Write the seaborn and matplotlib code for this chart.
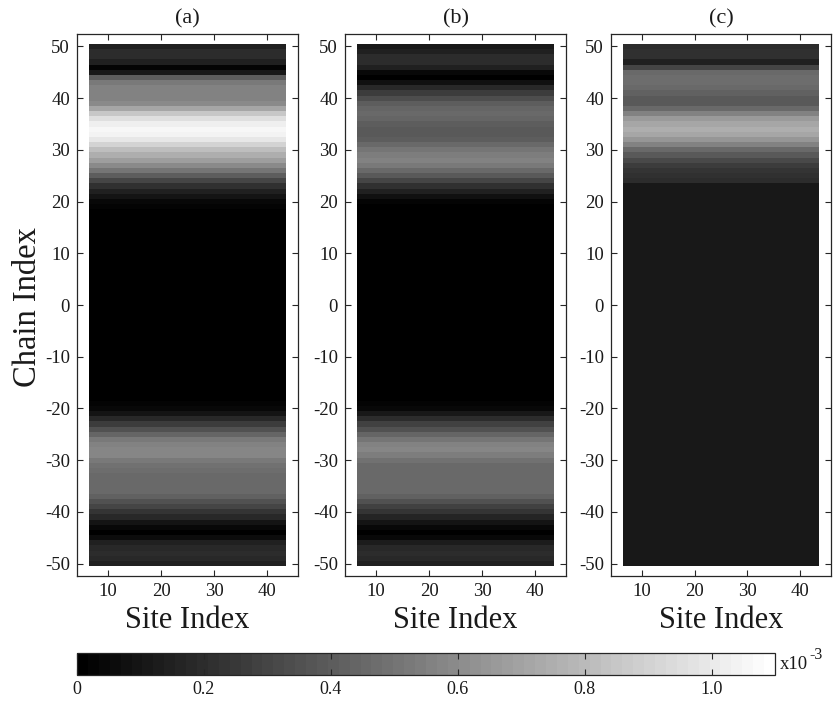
import numpy as np
import pandas as pd
import matplotlib
matplotlib.use("Agg")
import matplotlib.pyplot as plt
import seaborn as sns
from matplotlib.colors import ListedColormap

plt.rcParams["font.family"] = ["Liberation Serif", "DejaVu Serif"]

# ---------------- data ----------------
sites = list(range(7, 44))            # Site Index 7..43
chains = list(range(50, -51, -1))     # Chain Index 50 .. -50 (top to bottom)

# row profiles (x1e-3), chain 50 -> -50, uniform along the sites
profile_a = [
    0.15, 0.20, 0.20, 0.15, 0.03, 0.12, 0.40, 0.52, 0.55, 0.55,
    0.55, 0.60, 0.72, 0.85, 0.96, 1.03, 1.06, 1.04, 0.98, 0.90,
    0.82, 0.74, 0.68, 0.60, 0.50, 0.40, 0.30, 0.22, 0.15, 0.10,
    0.05, 0.02, 0.00, 0.00, 0.00, 0.00, 0.00, 0.00, 0.00, 0.00,
    0.00, 0.00, 0.00, 0.00, 0.00, 0.00, 0.00, 0.00, 0.00, 0.00,
    0.00, 0.00, 0.00, 0.00, 0.00, 0.00, 0.00, 0.00, 0.00, 0.00,
    0.00, 0.00, 0.00, 0.00, 0.00, 0.00, 0.00, 0.00, 0.00, 0.02,
    0.05, 0.10, 0.18, 0.26, 0.35, 0.44, 0.52, 0.56, 0.58, 0.57,
    0.53, 0.49, 0.47, 0.46, 0.46, 0.46, 0.45, 0.42, 0.36, 0.30,
    0.24, 0.18, 0.10, 0.04, 0.01, 0.06, 0.14, 0.18, 0.20, 0.18,
    0.15,
]
profile_b = [
    0.12, 0.14, 0.20, 0.20, 0.14, 0.05, 0.01, 0.08, 0.18, 0.26,
    0.33, 0.40, 0.44, 0.45, 0.44, 0.41, 0.38, 0.38, 0.40, 0.45,
    0.50, 0.54, 0.55, 0.52, 0.46, 0.38, 0.30, 0.22, 0.14, 0.08,
    0.03, 0.01, 0.00, 0.00, 0.00, 0.00, 0.00, 0.00, 0.00, 0.00,
    0.00, 0.00, 0.00, 0.00, 0.00, 0.00, 0.00, 0.00, 0.00, 0.00,
    0.00, 0.00, 0.00, 0.00, 0.00, 0.00, 0.00, 0.00, 0.00, 0.00,
    0.00, 0.00, 0.00, 0.00, 0.00, 0.00, 0.00, 0.00, 0.00, 0.02,
    0.05, 0.12, 0.20, 0.28, 0.36, 0.44, 0.50, 0.55, 0.57, 0.54,
    0.49, 0.46, 0.45, 0.45, 0.46, 0.46, 0.45, 0.42, 0.36, 0.29,
    0.23, 0.17, 0.10, 0.04, 0.01, 0.05, 0.13, 0.18, 0.20, 0.18,
    0.15,
]
profile_c = [
    0.20, 0.22, 0.22, 0.14, 0.30, 0.46, 0.48, 0.47, 0.45, 0.42,
    0.38, 0.38, 0.45, 0.55, 0.66, 0.72, 0.74, 0.72, 0.64, 0.55,
    0.46, 0.38, 0.32, 0.27, 0.24, 0.22, 0.20, 0.11, 0.11, 0.11,
    0.11, 0.11, 0.11, 0.11, 0.11, 0.11, 0.11, 0.11, 0.11, 0.11,
    0.11, 0.11, 0.11, 0.11, 0.11, 0.11, 0.11, 0.11, 0.11, 0.11,
    0.11, 0.11, 0.11, 0.11, 0.11, 0.11, 0.11, 0.11, 0.11, 0.11,
    0.11, 0.11, 0.11, 0.11, 0.11, 0.11, 0.11, 0.11, 0.11, 0.11,
    0.11, 0.11, 0.11, 0.11, 0.11, 0.11, 0.11, 0.11, 0.11, 0.11,
    0.11, 0.11, 0.11, 0.11, 0.11, 0.11, 0.11, 0.11, 0.11, 0.11,
    0.11, 0.11, 0.11, 0.11, 0.11, 0.11, 0.11, 0.11, 0.11, 0.11,
    0.11,
]
panel_titles = ["(a)", "(b)", "(c)"]
x_ticks = [10, 20, 30, 40]
y_ticks = [50, 40, 30, 20, 10, 0, -10, -20, -30, -40, -50]
cbar_ticks = [0, 0.2, 0.4, 0.6, 0.8, 1.0]
cbar_labels = ["0", "0.2", "0.4", "0.6", "0.8", "1.0"]
vmin, vmax = 0.0, 1.1

# ---------------- figure ----------------
W, H = 834, 706
fig = plt.figure(figsize=(W / 100, H / 100), dpi=100)


def rect(x0, y0, x1, y1):
    return [x0 / W, 1 - y1 / H, (x1 - x0) / W, (y1 - y0) / H]


cmap = ListedColormap(plt.cm.gray(np.linspace(0, 1, 64)))
spine_col = "#262626"
text_col = "#1a1a1a"
panel_x = [(77, 298), (345, 566), (611, 831)]
ax_top, ax_bot = 34, 576
cax = fig.add_axes(rect(77, 653, 775, 675))

x_lim = (4.15, 45.85)
y_lim = (-52.4, 52.4)


def xp(v):
    return v - sites[0] + 0.5


def yp(v):
    return chains[0] - v + 0.5


for i, (prof, (x0, x1), ttl) in enumerate(zip([profile_a, profile_b, profile_c],
                                              panel_x, panel_titles)):
    ax = fig.add_axes(rect(x0, ax_top, x1, ax_bot))
    mat = np.tile(np.asarray(prof)[:, None], (1, len(sites)))
    df = pd.DataFrame(mat, index=chains, columns=sites)
    kws = dict(cbar=False)
    if i == 0:
        kws = dict(cbar=True, cbar_ax=cax, cbar_kws=dict(orientation="horizontal"))
    sns.heatmap(df, ax=ax, cmap=cmap, vmin=vmin, vmax=vmax,
                xticklabels=False, yticklabels=False, **kws)
    ax.set_xlim(xp(x_lim[0]), xp(x_lim[1]))
    ax.set_ylim(yp(y_lim[0]), yp(y_lim[1]))
    ax.set_xticks([xp(v) for v in x_ticks])
    ax.set_xticklabels([str(v) for v in x_ticks])
    ax.set_yticks([yp(v) for v in y_ticks])
    ax.set_yticklabels([str(v) for v in y_ticks], rotation=0)
    ax.set_xlabel("")
    ax.set_ylabel("")
    for s in ax.spines.values():
        s.set_visible(True)
        s.set_color(spine_col)
        s.set_linewidth(0.9)
    ax.tick_params(axis="both", direction="in", length=4, width=0.8,
                   color=spine_col, top=True, right=True, labelsize=13.5,
                   pad=5, labelcolor=text_col)
    cx = (x0 + x1) / 2
    fig.text(cx / W, 1 - 23 / H, ttl, ha="center", va="baseline",
             fontsize=16, color=text_col)
    fig.text(cx / W, 1 - 628 / H, "Site Index", ha="center", va="baseline",
             fontsize=22, color=text_col)

fig.text(28 / W, 1 - 307 / H, "Chain Index", ha="center", va="center",
         rotation=90, fontsize=23.5, color=text_col)

cb = None
for a in fig.axes:
    for c in a.collections:
        if getattr(c, "colorbar", None) is not None:
            cb = c.colorbar
            break
    if cb is not None:
        break
cb.set_ticks(cbar_ticks)
cb.set_ticklabels(cbar_labels)
cb.outline.set_linewidth(0.9)
cb.outline.set_edgecolor(spine_col)
cax.tick_params(direction="in", length=4, width=0.8, color=spine_col,
                top=True, bottom=True, labelsize=13, pad=4,
                labelcolor=text_col)
fig.text(780 / W, 1 - 669 / H, "x10", ha="left", va="baseline",
         fontsize=13.5, color=text_col)
fig.text(809 / W, 1 - 659 / H, "-3", ha="left", va="baseline",
         fontsize=11.5, color=text_col)

fig.savefig("out.png", dpi=100)
